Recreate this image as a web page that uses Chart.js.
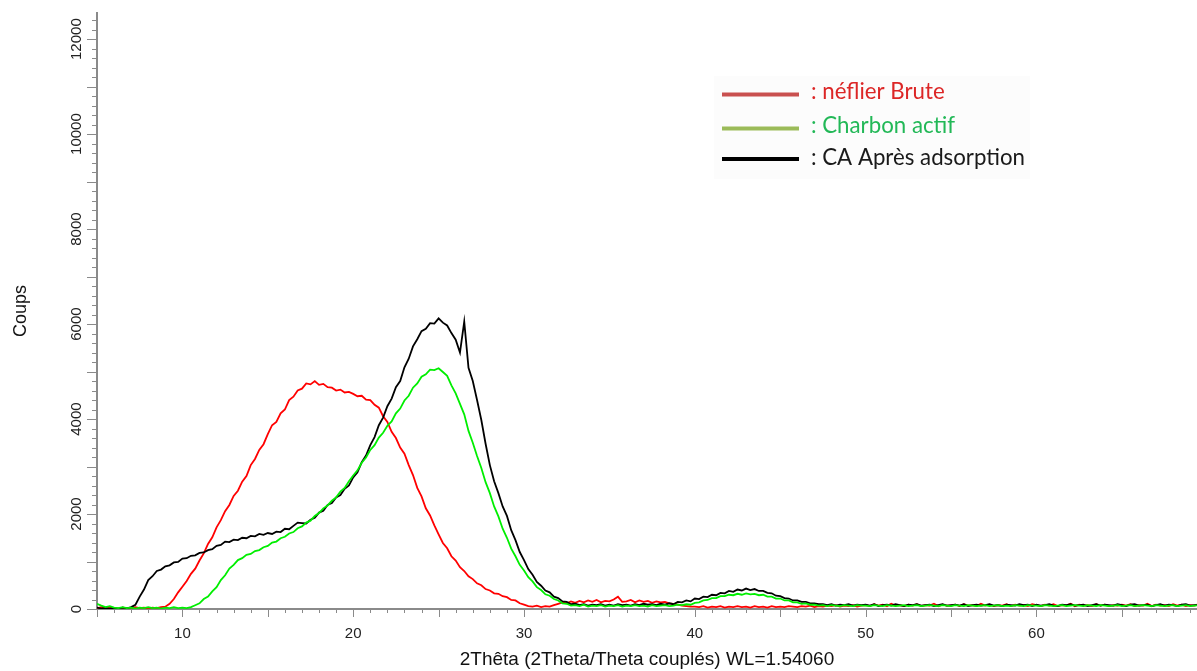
<!DOCTYPE html>
<html>
<head>
<meta charset="utf-8">
<script src="https://cdn.jsdelivr.net/npm/chart.js@4.4.1/dist/chart.umd.min.js"></script>
<style>
html,body{margin:0;padding:0;background:#fff;}
#wrap{width:1197px;height:671px;position:relative;}
</style>
</head>
<body>
<div id="wrap"><canvas id="c" width="1197" height="671"></canvas></div>
<script>
// 2Theta positions (degrees)
const twoTheta = [
  5,5.25,5.5,5.75,6,6.25,6.5,6.75,7,7.25,7.5,7.75,8,8.25,8.5,8.75,9,9.25,9.5,9.75,
  10,10.25,10.5,10.75,11,11.25,11.5,11.75,12,12.25,12.5,12.75,13,13.25,13.5,13.75,14,14.25,14.5,14.75,
  15,15.25,15.5,15.75,16,16.25,16.5,16.75,17,17.25,17.5,17.75,18,18.25,18.5,18.75,19,19.25,19.5,19.75,
  20,20.25,20.5,20.75,21,21.25,21.5,21.75,22,22.25,22.5,22.75,23,23.25,23.5,23.75,24,24.25,24.5,24.75,
  25,25.25,25.5,25.75,26,26.25,26.5,26.75,27,27.25,27.5,27.75,28,28.25,28.5,28.75,29,29.25,29.5,29.75,
  30,30.25,30.5,30.75,31,31.25,31.5,31.75,32,32.25,32.5,32.75,33,33.25,33.5,33.75,34,34.25,34.5,34.75,
  35,35.25,35.5,35.75,36,36.25,36.5,36.75,37,37.25,37.5,37.75,38,38.25,38.5,38.75,39,39.25,39.5,39.75,
  40,40.25,40.5,40.75,41,41.25,41.5,41.75,42,42.25,42.5,42.75,43,43.25,43.5,43.75,44,44.25,44.5,44.75,
  45,45.25,45.5,45.75,46,46.25,46.5,46.75,47,47.25,47.5,47.75,48,48.25,48.5,48.75,49,49.25,49.5,49.75,
  50,50.25,50.5,50.75,51,51.25,51.5,51.75,52,52.25,52.5,52.75,53,53.25,53.5,53.75,54,54.25,54.5,54.75,
  55,55.25,55.5,55.75,56,56.25,56.5,56.75,57,57.25,57.5,57.75,58,58.25,58.5,58.75,59,59.25,59.5,59.75,
  60,60.25,60.5,60.75,61,61.25,61.5,61.75,62,62.25,62.5,62.75,63,63.25,63.5,63.75,64,64.25,64.5,64.75,
  65,65.25,65.5,65.75,66,66.25,66.5,66.75,67,67.25,67.5,67.75,68,68.25,68.5,68.75,69,69.25,69.5
];

// Coups : néflier Brute (red)
const neflierBrute = [
  20,40,10,30,20,10,30,20,10,40,20,30,10,30,20,40,50,110,210,350,
  470,590,740,850,1020,1170,1370,1510,1720,1870,2060,2190,2380,2490,2680,2800,3030,3160,3350,3470,
  3680,3870,3940,4120,4200,4400,4470,4600,4640,4750,4730,4800,4720,4740,4670,4660,4600,4620,4560,4570,
  4530,4480,4490,4410,4400,4300,4240,4060,3940,3730,3600,3400,3270,3030,2820,2550,2370,2120,1970,1760,
  1570,1390,1280,1110,1020,880,800,690,630,540,500,420,390,330,320,270,250,190,180,120,
  90,60,50,70,40,60,50,80,110,140,120,160,130,170,140,180,150,190,140,170,
  160,200,260,150,160,190,140,180,150,170,130,160,140,150,120,110,90,70,60,50,
  50,40,60,30,50,40,60,30,50,40,60,40,50,30,60,40,50,30,60,40,
  50,40,60,50,40,60,50,70,40,60,50,70,60,80,50,70,60,80,50,70,
  80,60,100,70,90,60,110,70,80,60,90,70,100,60,80,70,110,60,90,70,
  70,90,60,100,70,80,60,110,70,90,60,80,70,100,60,90,70,80,60,100,
  80,60,90,70,100,60,80,70,110,60,90,70,80,60,100,70,90,60,80,70,
  90,70,100,60,80,70,110,60,90,70,80,60,100,70,90,60,80,70,100
];

// Coups : Charbon actif (green)
const charbonActif = [
  110,70,40,60,30,20,40,20,30,10,30,20,40,20,30,10,30,20,40,20,
  30,20,40,80,120,210,260,370,460,610,710,850,930,1030,1070,1140,1160,1220,1240,1300,
  1330,1400,1420,1490,1520,1590,1620,1700,1740,1820,1860,1960,2020,2120,2180,2280,2350,2470,2550,2690,
  2810,2920,3080,3190,3350,3450,3610,3710,3860,3950,4120,4220,4390,4490,4660,4750,4890,4940,5040,5030,
  5070,4990,4910,4710,4540,4320,4100,3750,3500,3220,2970,2670,2440,2160,1950,1690,1500,1270,1110,930,
  810,670,580,460,400,310,280,210,180,120,110,70,80,60,90,50,70,60,80,50,
  70,60,80,50,70,60,80,60,70,50,80,60,70,80,60,70,90,80,100,90,
  130,140,180,190,230,230,270,270,300,290,320,300,330,310,320,290,300,260,260,220,
  220,180,180,140,140,110,120,90,90,70,80,60,80,70,60,80,70,60,80,70,
  70,60,80,70,60,80,70,60,70,80,60,70,80,60,70,80,70,60,80,70,
  60,80,70,60,80,70,60,70,80,60,70,80,60,70,60,80,70,60,80,70,
  70,60,80,70,60,70,80,60,70,80,70,60,80,70,60,80,70,60,70,80,
  60,70,80,60,70,80,70,60,80,70,60,70,80,60,70,80,60,70,80
];

// Coups : CA Après adsorption (black)
const caApresAdsorption = [
  30,10,25,5,20,10,30,15,40,90,260,410,610,690,800,830,900,920,980,990,
  1060,1070,1120,1130,1180,1190,1240,1260,1330,1350,1420,1410,1460,1450,1500,1490,1540,1530,1580,1560,
  1600,1580,1630,1620,1690,1680,1750,1820,1810,1800,1880,1920,2030,2070,2190,2230,2350,2400,2530,2600,
  2770,2880,3090,3230,3450,3620,3870,4030,4270,4430,4670,4800,5090,5270,5530,5680,5850,5900,6020,6010,
  6120,6030,5970,5810,5670,5400,6050,5080,4800,4400,3980,3480,3030,2690,2440,2160,1960,1660,1450,1200,
  1030,840,720,570,490,390,350,260,230,160,150,100,110,80,100,70,90,80,100,70,
  90,70,100,80,90,70,100,80,110,90,100,80,110,90,120,100,150,140,180,160,
  220,210,260,250,300,290,340,330,380,360,410,390,430,400,420,380,380,340,330,280,
  270,230,220,180,180,150,150,120,120,100,100,80,100,70,90,80,100,70,90,80,
  90,70,100,60,80,90,70,100,80,60,90,80,100,70,80,90,60,80,100,70,
  80,90,70,100,60,80,90,70,80,100,70,80,60,90,80,70,100,80,90,60,
  90,70,80,100,70,60,90,80,100,70,80,90,60,80,100,70,90,80,70,100,
  80,60,90,100,70,80,90,60,80,100,70,90,80,60,90,100,70,80,90
];

// Tick values shown on the axes
const xTickValues = [10, 20, 30, 40, 50, 60];
const yTickValues = [0, 2000, 4000, 6000, 8000, 10000, 12000];

const legendLabels = [': néflier Brute', ': Charbon actif', ': CA Après adsorption'];
const xTitle = '2Thêta (2Theta/Theta couplés) WL=1.54060';
const yTitle = 'Coups';

function toPoints(arr) { return twoTheta.map((t, i) => ({ x: t, y: arr[i] })); }

const axisColor = '#8a8a8a';

const minorTicks = {
  id: 'minorTicks',
  afterDraw(chart) {
    const { ctx, chartArea, scales } = chart;
    const xs = scales.x, ys = scales.y;
    ctx.save();
    ctx.strokeStyle = axisColor;
    ctx.lineWidth = 1;
    for (let v = 0; v <= ys.max; v += 200) {
      const py = Math.round(ys.getPixelForValue(v)) + 0.5;
      const len = (v % 1000 === 0) ? 10 : 5;
      ctx.beginPath();
      ctx.moveTo(chartArea.left - len, py);
      ctx.lineTo(chartArea.left, py);
      ctx.stroke();
    }
    for (let t = Math.ceil(xs.min); t <= xs.max; t += 1) {
      const px = Math.round(xs.getPixelForValue(t)) + 0.5;
      const len = (t % 5 === 0) ? 8 : 4;
      ctx.beginPath();
      ctx.moveTo(px, chartArea.bottom);
      ctx.lineTo(px, chartArea.bottom + len);
      ctx.stroke();
    }
    ctx.restore();
  }
};

const legendBox = {
  id: 'legendBox',
  afterDraw(chart) {
    const ctx = chart.ctx;
    ctx.save();
    ctx.fillStyle = '#fcfcfc';
    ctx.fillRect(714, 76, 316, 103);
    ctx.font = '100px Lato';
    const w = ctx.measureText(legendLabels[2]).width;
    const size = 100 * 214 / w;
    const lineCols = ['#c9504f', '#9bbb59', '#000000'];
    const textCols = ['#dc2626', '#22b857', '#1a1a1a'];
    const lineY = [94.5, 128.5, 159];
    const textY = [98.5, 133, 165];
    for (let i = 0; i < 3; i++) {
      ctx.strokeStyle = lineCols[i];
      ctx.lineWidth = 4;
      ctx.beginPath();
      ctx.moveTo(722, lineY[i]);
      ctx.lineTo(799, lineY[i]);
      ctx.stroke();
      ctx.fillStyle = textCols[i];
      ctx.font = size.toFixed(2) + 'px Lato';
      ctx.textBaseline = 'alphabetic';
      ctx.textAlign = 'left';
      ctx.fillText(legendLabels[i], 811, textY[i]);
    }
    ctx.restore();
  }
};

new Chart(document.getElementById('c'), {
  type: 'line',
  data: {
    datasets: [
      { label: 'Charbon actif', data: toPoints(charbonActif), borderColor: '#00ee00', borderWidth: 1.8, pointRadius: 0, tension: 0, fill: false },
      { label: 'CA Après adsorption', data: toPoints(caApresAdsorption), borderColor: '#000000', borderWidth: 1.8, pointRadius: 0, tension: 0, fill: false },
      { label: 'néflier Brute', data: toPoints(neflierBrute), borderColor: '#ff0000', borderWidth: 1.8, pointRadius: 0, tension: 0, fill: false }
    ]
  },
  options: {
    responsive: false,
    devicePixelRatio: 1,
    animation: false,
    layout: { padding: { top: 13, right: 0, left: 0, bottom: 0 } },
    plugins: { legend: { display: false }, tooltip: { enabled: false } },
    scales: {
      x: {
        type: 'linear',
        min: 5,
        max: 69.4,
        afterFit(scale) { scale.height = 62; },
        afterBuildTicks(scale) { scale.ticks = xTickValues.map(v => ({ value: v })); },
        border: { display: true, color: axisColor, width: 2 },
        grid: { display: false, drawTicks: false, drawOnChartArea: false },
        ticks: {
          autoSkip: false,
          maxRotation: 0,
          minRotation: 0,
          padding: 16,
          color: '#222',
          callback: (v) => String(v),
          font: { family: '"Liberation Sans", Arial, sans-serif', size: 15 }
        },
        title: {
          display: true,
          text: xTitle,
          color: '#111',
          padding: { top: 0, bottom: 0 },
          font: { family: '"Liberation Sans", Arial, sans-serif', size: 19 }
        }
      },
      y: {
        type: 'linear',
        min: 0,
        max: 12550,
        afterFit(scale) { scale.width = 97; },
        afterBuildTicks(scale) { scale.ticks = yTickValues.map(v => ({ value: v })); },
        border: { display: true, color: axisColor, width: 2 },
        grid: { display: false, drawTicks: false, drawOnChartArea: false },
        ticks: {
          autoSkip: false,
          minRotation: 90,
          maxRotation: 90,
          crossAlign: 'center',
          padding: -1,
          color: '#222',
          callback: (v) => String(v),
          font: { family: '"Liberation Sans", Arial, sans-serif', size: 15 }
        },
        title: {
          display: true,
          text: yTitle,
          color: '#111',
          padding: { top: 10, bottom: 0 },
          font: { family: '"Liberation Sans", Arial, sans-serif', size: 18 }
        }
      }
    }
  },
  plugins: [minorTicks, legendBox]
});
</script>
</body>
</html>
